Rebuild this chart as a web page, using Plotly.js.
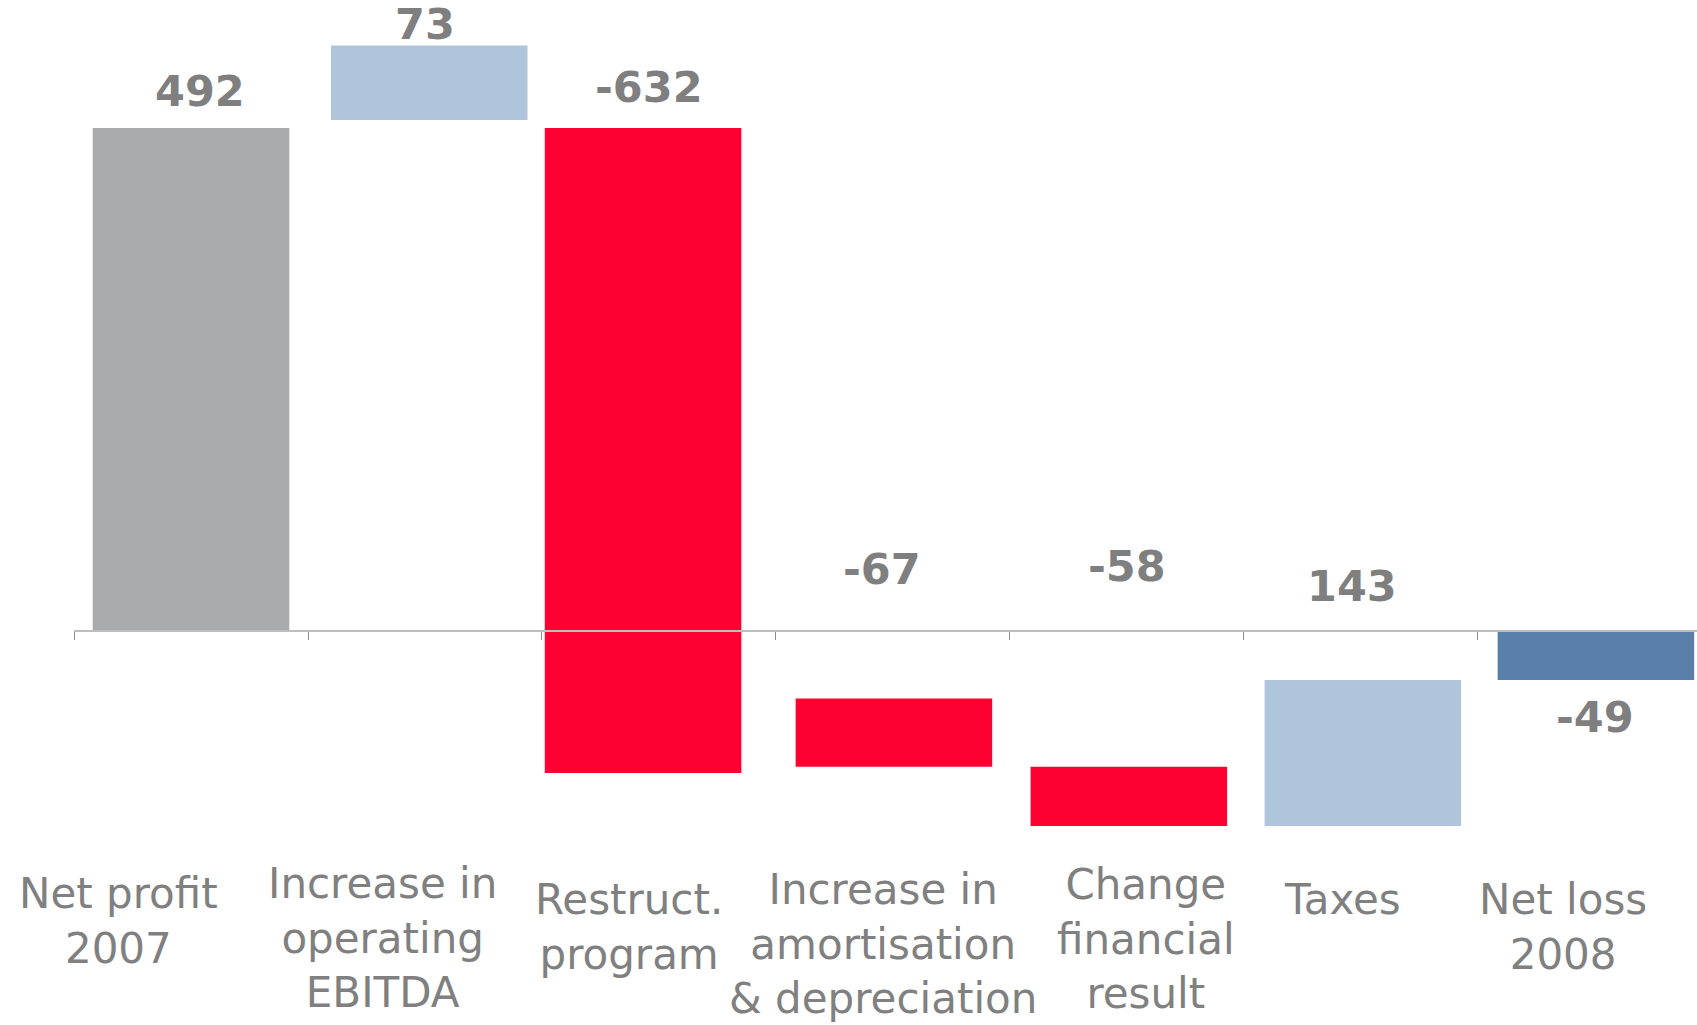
<!DOCTYPE html>
<html>
<head>
<meta charset="utf-8">
<script src="https://cdn.plot.ly/plotly-3.0.1.min.js"></script>
<style>html,body{margin:0;padding:0;background:#fff;}#chart{width:1697px;height:1025px;}</style>
</head>
<body>
<div id="chart"></div>
<script>
// ---- data ----
const categories = [
  "Net profit<br>2007",
  "Increase in<br>operating<br>EBITDA",
  "Restruct.<br>program",
  "Increase in<br>amortisation<br>& depreciation",
  "Change<br>financial<br>result",
  "Taxes",
  "Net loss<br>2008"
];
const values   = [492, 73, -632, -67, -58, 143, -49];   // signed change shown on each bar
const barStart = [0, 500, 492, -67, -134, -192, 0];      // level at which each bar starts, as drawn
const valueLabels = ["492", "73", "-632", "-67", "-58", "143", "-49"];

// ---- styling ----
const barColors = ["#A9AAAC", "#AFC5DC", "#FF0033", "#FF0033", "#FF0033", "#AFC5DC", "#5A7FA8"];
const textGray = "#7F7F7F";
const fontFam = "DejaVu Sans, Verdana, sans-serif";
const barWidth = 0.84;
const barShift = [0, 0.018, -0.068, 0.004, 0.008, 0.008, 0.004]; // fraction of a category

// where each value label sits: 'top' = above bar top, 'zero' = above zero line, 'bottom' = below bar bottom
const labelAnchor = ["top", "top", "top", "zero", "zero", "zero", "bottom"];
const labelDy = [37, 21, 41, 61, 64, 44, -37];   // px, positive = upward
const labelDx = [9, 0, -10, -11, 0, -9, 0];
const catDx = [-73, -42, -30, -10, 19, -18, -32];
const catDy = [-238, -228, -244, -234, -229, -244, -244];

const idx = categories.map((_, i) => i);

const yMin = -387.1, yMax = 617.5;
const xaxisPos = (0 - yMin) / (yMax - yMin);

const trace = {
  type: "bar",
  x: idx,
  y: values,
  base: barStart,
  width: barWidth,
  offset: barShift.map(s => -barWidth / 2 + s),
  marker: { color: barColors, line: { width: 0 } },
  hoverinfo: "skip",
  showlegend: false
};

const annotations = [];
idx.forEach(i => {
  const lo = Math.min(barStart[i], barStart[i] + values[i]);
  const hi = Math.max(barStart[i], barStart[i] + values[i]);
  let yv = labelAnchor[i] === "top" ? hi : (labelAnchor[i] === "bottom" ? lo : 0);
  annotations.push({
    x: i, y: yv, xref: "x", yref: "y",
    text: "<b>" + valueLabels[i] + "</b>",
    showarrow: false,
    xanchor: "center", yanchor: "middle",
    xshift: labelDx[i], yshift: labelDy[i],
    font: { family: fontFam, size: 43, color: textGray }
  });
  annotations.push({
    x: i, y: 0, xref: "x", yref: "y",
    text: categories[i],
    showarrow: false,
    align: "center",
    borderpad: 0,
    xanchor: "center", yanchor: "top",
    xshift: catDx[i], yshift: catDy[i],
    font: { family: fontFam, size: 42, color: "#808080" }
  });
});

const layout = {
  width: 1697, height: 1025,
  autosize: false,
  margin: { l: 74, r: 0, t: 0, b: 0, pad: 0 },
  paper_bgcolor: "#ffffff",
  plot_bgcolor: "#ffffff",
  xaxis: {
    type: "linear",
    range: [-0.5, 6.436],
    anchor: "free",
    position: xaxisPos,
    showline: true,
    linecolor: "#BDBDBD",
    linewidth: 1.5,
    showgrid: false,
    zeroline: false,
    tickmode: "array",
    tickvals: [-0.5, 0.5, 1.5, 2.5, 3.5, 4.5, 5.5],
    ticks: "outside",
    ticklen: 8,
    tickwidth: 1,
    tickcolor: "#8C8C8C",
    showticklabels: false,
    fixedrange: true
  },
  yaxis: {
    range: [yMin, yMax],
    visible: false,
    showgrid: false,
    zeroline: false,
    fixedrange: true
  },
  annotations: annotations
};

Plotly.newPlot("chart", [trace], layout, { displayModeBar: false, staticPlot: true });
</script>
</body>
</html>
